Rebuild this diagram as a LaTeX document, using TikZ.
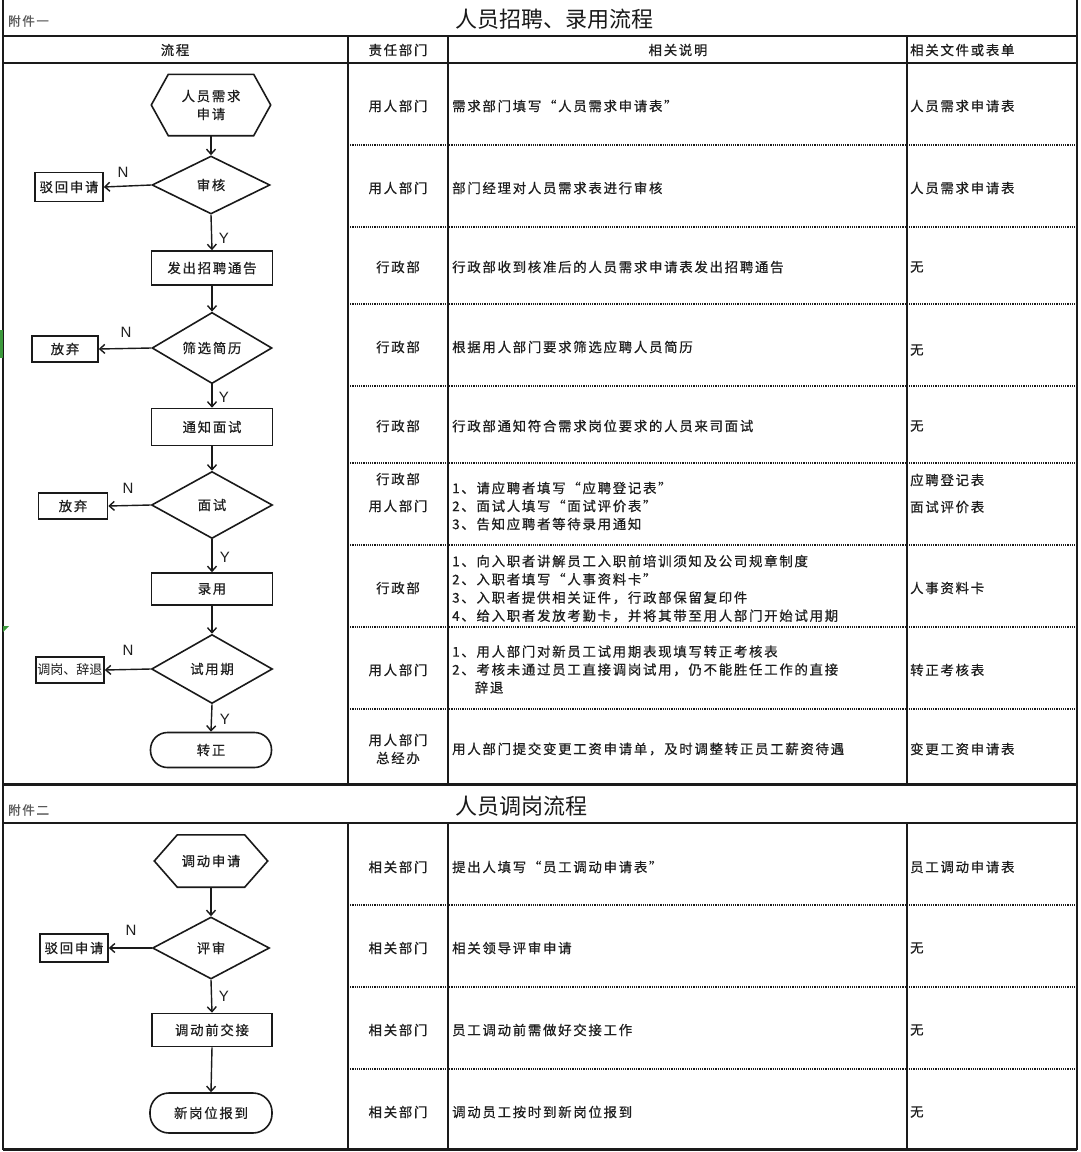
\documentclass[tikz,border=0pt]{standalone}
\usepackage{fontspec}
\setmainfont{Noto Sans CJK SC}
\newfontfamily\cjk[LetterSpace=13,FakeBold=0.6]{Noto Sans CJK SC}
\newfontfamily\cjkt{Noto Sans CJK SC}
\newfontfamily\lat{Liberation Sans}
\usetikzlibrary{shapes.geometric,arrows.meta,calc}
\definecolor{txt}{HTML}{1E1E1E}
\definecolor{ln}{HTML}{1A1A1A}
\definecolor{xlgreen}{HTML}{3C9A3C}
\begin{document}
\begin{tikzpicture}[x=1pt,y=-1pt,
  body/.style={font=\cjk\fontsize{13.4}{18}\selectfont, text=txt, inner sep=0pt, align=center},
  fbox/.style={body, draw=ln, line width=1.6pt, rectangle},
  dia/.style={body, draw=ln, line width=1.6pt, diamond, inner sep=0pt},
  hexn/.style={body},
  hexline/.style={draw=ln, line width=1.6pt},
  term/.style={body, draw=ln, line width=1.6pt, rectangle, rounded corners=17pt},
  arr/.style={draw=ln, line width=1.4pt, -{Straight Barb[length=5pt,width=9pt]}},
  yn/.style={font=\lat\fontsize{15}{15}\selectfont, text=txt, inner sep=0pt},
  grid/.style={draw=ln, line width=1.5pt},
  heavy/.style={draw=ln, line width=3pt},
  dots/.style={draw=ln, line width=1.1pt, dash pattern=on 1.1pt off 1.1pt},
  lt/.style={body, anchor=west, align=left},
  ct/.style={body, anchor=center, align=center},
  note/.style={font=\cjk\fontsize{12.5}{13}\selectfont, text=black!65, inner sep=0pt, anchor=west},
  ttl/.style={font=\cjkt\fontsize{22}{23}\selectfont, text=black!90, inner sep=0pt, anchor=west},
]
\useasboundingbox (0,0) rectangle (1080,1152);
\fill[white] (0,0) rectangle (1080,1152);

% ---------- frame and grid ----------
\draw[grid] (3,0) -- (3,1150);
\draw[grid] (1077,0) -- (1077,1150);
\draw[grid] (3,36) -- (1077,36);
\draw[grid] (3,63) -- (1077,63);
\foreach \xx in {348,448,907} {\draw[grid] (\xx,36) -- (\xx,783);}
\foreach \yy in {145,227,304,386,463,545,627,709} {\draw[dots] (348,\yy) -- (1077,\yy);}
\draw[heavy] (3,784) -- (1077,784);
\draw[grid] (3,823) -- (1077,823);
\foreach \xx in {348,448,907} {\draw[grid] (\xx,823) -- (\xx,1149);}
\foreach \yy in {905,987,1069} {\draw[dots] (348,\yy) -- (1077,\yy);}
\draw[heavy] (3,1149.5) -- (1077,1149.5);
% small spreadsheet marks at the left edge
\fill[xlgreen] (0,330) rectangle (2.5,358);
\fill[xlgreen] (3,626) -- (9,626) -- (3,632) -- cycle;

% ---------- titles and headers ----------
\node[note] (att1) at (8,21) {附件一};
\node[ttl] (title1) at (455,19) {人员招聘、录用流程};
\node[ct] (hd1) at (175,50) {流程};
\node[ct] (hd2) at (398,50) {责任部门};
\node[ct] (hd3) at (678,50) {相关说明};
\node[lt] (hd4) at (910,50) {相关文件或表单};
\node[note] (att2) at (8,810) {附件二};
\node[ttl] (title2) at (455,806) {人员调岗流程};

% ---------- flowchart 1 ----------
\node[hexn, minimum width=119pt, minimum height=61pt] (h1) at (211,105) {人员需求\\申请};
\draw[hexline] (h1.west) -- ([xshift=17pt]h1.north west) -- ([xshift=-17pt]h1.north east) -- (h1.east) -- ([xshift=-17pt]h1.south east) -- ([xshift=17pt]h1.south west) -- cycle;
\node[dia, minimum width=118pt, minimum height=58pt] (d1) at (211,185) {审核};
\node[fbox, minimum width=68pt, minimum height=29pt] (r1) at (69,187) {驳回申请};
\node[fbox, minimum width=121pt, minimum height=34pt] (b1) at (212,268) {发出招聘通告};
\node[dia, minimum width=120pt, minimum height=68pt] (d2) at (212,348) {筛选简历};
\node[fbox, minimum width=66pt, minimum height=26pt] (r2) at (65,349) {放弃};
\node[fbox, minimum width=121pt, minimum height=37pt] (b2) at (212,427) {通知面试};
\node[dia, minimum width=121pt, minimum height=67pt] (d3) at (212,505) {面试};
\node[fbox, minimum width=69pt, minimum height=26pt] (r3) at (73,506) {放弃};
\node[fbox, minimum width=121pt, minimum height=32pt] (b3) at (212,589) {录用};
\node[dia, minimum width=121pt, minimum height=69pt] (d4) at (212,669) {试用期};
\node[fbox, minimum width=68pt, minimum height=26pt, font=\cjkt\fontsize{13}{14}\selectfont] (r4) at (70,670) {调岗、辞退};
\node[term, minimum width=121pt, minimum height=35pt] (t1) at (211,750) {转正};

\draw[arr] (h1.south) -- (d1.north);
\draw[arr] (d1.south) -- (b1.north);
\draw[arr] (d1.west) -- (r1.east);
\draw[arr] (b1.south) -- (d2.north);
\draw[arr] (d2.south) -- (b2.north);
\draw[arr] (d2.west) -- (r2.east);
\draw[arr] (b2.south) -- (d3.north);
\draw[arr] (d3.south) -- (b3.north);
\draw[arr] (d3.west) -- (r3.east);
\draw[arr] (b3.south) -- (d4.north);
\draw[arr] (d4.south) -- (t1.north);
\draw[arr] (d4.west) -- (r4.east);

\node[yn] (n1) at (123,172) {N};
\node[yn] (y1) at (224,238) {Y};
\node[yn] (n2) at (126,332) {N};
\node[yn] (y2) at (224,397) {Y};
\node[yn] (n3) at (128,488) {N};
\node[yn] (y3) at (225,557) {Y};
\node[yn] (n4) at (128,650) {N};
\node[yn] (y4) at (225,719) {Y};

% ---------- table 1 ----------
\node[ct] (a1) at (398,106) {用人部门};
\node[ct] (a2) at (398,188) {用人部门};
\node[ct] (a3) at (398,267) {行政部};
\node[ct] (a4) at (398,347) {行政部};
\node[ct] (a5) at (398,426) {行政部};
\node[ct] (a6a) at (398,479) {行政部};
\node[ct] (a6b) at (398,506) {用人部门};
\node[ct] (a7) at (398,588) {行政部};
\node[ct] (a8) at (398,670) {用人部门};
\node[ct] (a9) at (398,749) {用人部门\\总经办};

\node[lt] (s1) at (452,106) {需求部门填写“人员需求申请表”};
\node[lt] (s2) at (452,188) {部门经理对人员需求表进行审核};
\node[lt] (s3) at (452,267) {行政部收到核准后的人员需求申请表发出招聘通告};
\node[lt] (s4) at (452,347) {根据用人部门要求筛选应聘人员简历};
\node[lt] (s5) at (452,426) {行政部通知符合需求岗位要求的人员来司面试};
\node[lt] (s6) at (452,506) {1、请应聘者填写“应聘登记表”\\2、面试人填写“面试评价表”\\3、告知应聘者等待录用通知};
\node[lt, font=\cjk\fontsize{13.4}{18.2}\selectfont] (s7) at (452,588.5) {1、向入职者讲解员工入职前培训须知及公司规章制度\\2、入职者填写“人事资料卡”\\3、入职者提供相关证件，行政部保留复印件\\4、给入职者发放考勤卡，并将其带至用人部门开始试用期};
\node[lt] (s8) at (452,669.5) {1、用人部门对新员工试用期表现填写转正考核表\\2、考核未通过员工直接调岗试用，仍不能胜任工作的直接\\\phantom{2、}辞退};
\node[lt] (s9) at (452,749) {用人部门提交变更工资申请单，及时调整转正员工薪资待遇};

\node[lt] (f1) at (910,106) {人员需求申请表};
\node[lt] (f2) at (910,188) {人员需求申请表};
\node[lt] (f3) at (910,267) {无};
\node[lt] (f4) at (910,350) {无};
\node[lt] (f5) at (910,426) {无};
\node[lt] (f6a) at (910,480) {应聘登记表};
\node[lt] (f6b) at (910,507) {面试评价表};
\node[lt] (f7) at (910,588) {人事资料卡};
\node[lt] (f8) at (910,670) {转正考核表};
\node[lt] (f9) at (910,749) {变更工资申请表};

% ---------- flowchart 2 ----------
\node[hexn, minimum width=113pt, minimum height=52pt] (h2) at (211,861) {调动申请};
\draw[hexline] (h2.west) -- ([xshift=23pt]h2.north west) -- ([xshift=-23pt]h2.north east) -- (h2.east) -- ([xshift=-23pt]h2.south east) -- ([xshift=23pt]h2.south west) -- cycle;
\node[dia, minimum width=117pt, minimum height=62pt] (d5) at (211,948) {评审};
\node[fbox, minimum width=68pt, minimum height=28pt] (r5) at (74,948) {驳回申请};
\node[fbox, minimum width=120pt, minimum height=33pt] (b4) at (212,1030) {调动前交接};
\node[term, minimum width=122pt, minimum height=40pt, rounded corners=19pt] (t2) at (211,1113) {新岗位报到};

\draw[arr] (h2.south) -- (d5.north);
\draw[arr] (d5.south) -- (b4.north);
\draw[arr] (d5.west) -- (r5.east);
\draw[arr] (b4.south) -- (t2.north);
\node[yn] (n5) at (131,930) {N};
\node[yn] (y5) at (224,996) {Y};

% ---------- table 2 ----------
\node[ct] (g1) at (398,867) {相关部门};
\node[ct] (g2) at (398,948) {相关部门};
\node[ct] (g3) at (398,1030) {相关部门};
\node[ct] (g4) at (398,1112) {相关部门};
\node[lt] (u1) at (452,867) {提出人填写“员工调动申请表”};
\node[lt] (u2) at (452,948) {相关领导评审申请};
\node[lt] (u3) at (452,1030) {员工调动前需做好交接工作};
\node[lt] (u4) at (452,1112) {调动员工按时到新岗位报到};
\node[lt] (v1) at (910,867) {员工调动申请表};
\node[lt] (v2) at (910,948) {无};
\node[lt] (v3) at (910,1030) {无};
\node[lt] (v4) at (910,1112) {无};
\end{tikzpicture}
\end{document}
